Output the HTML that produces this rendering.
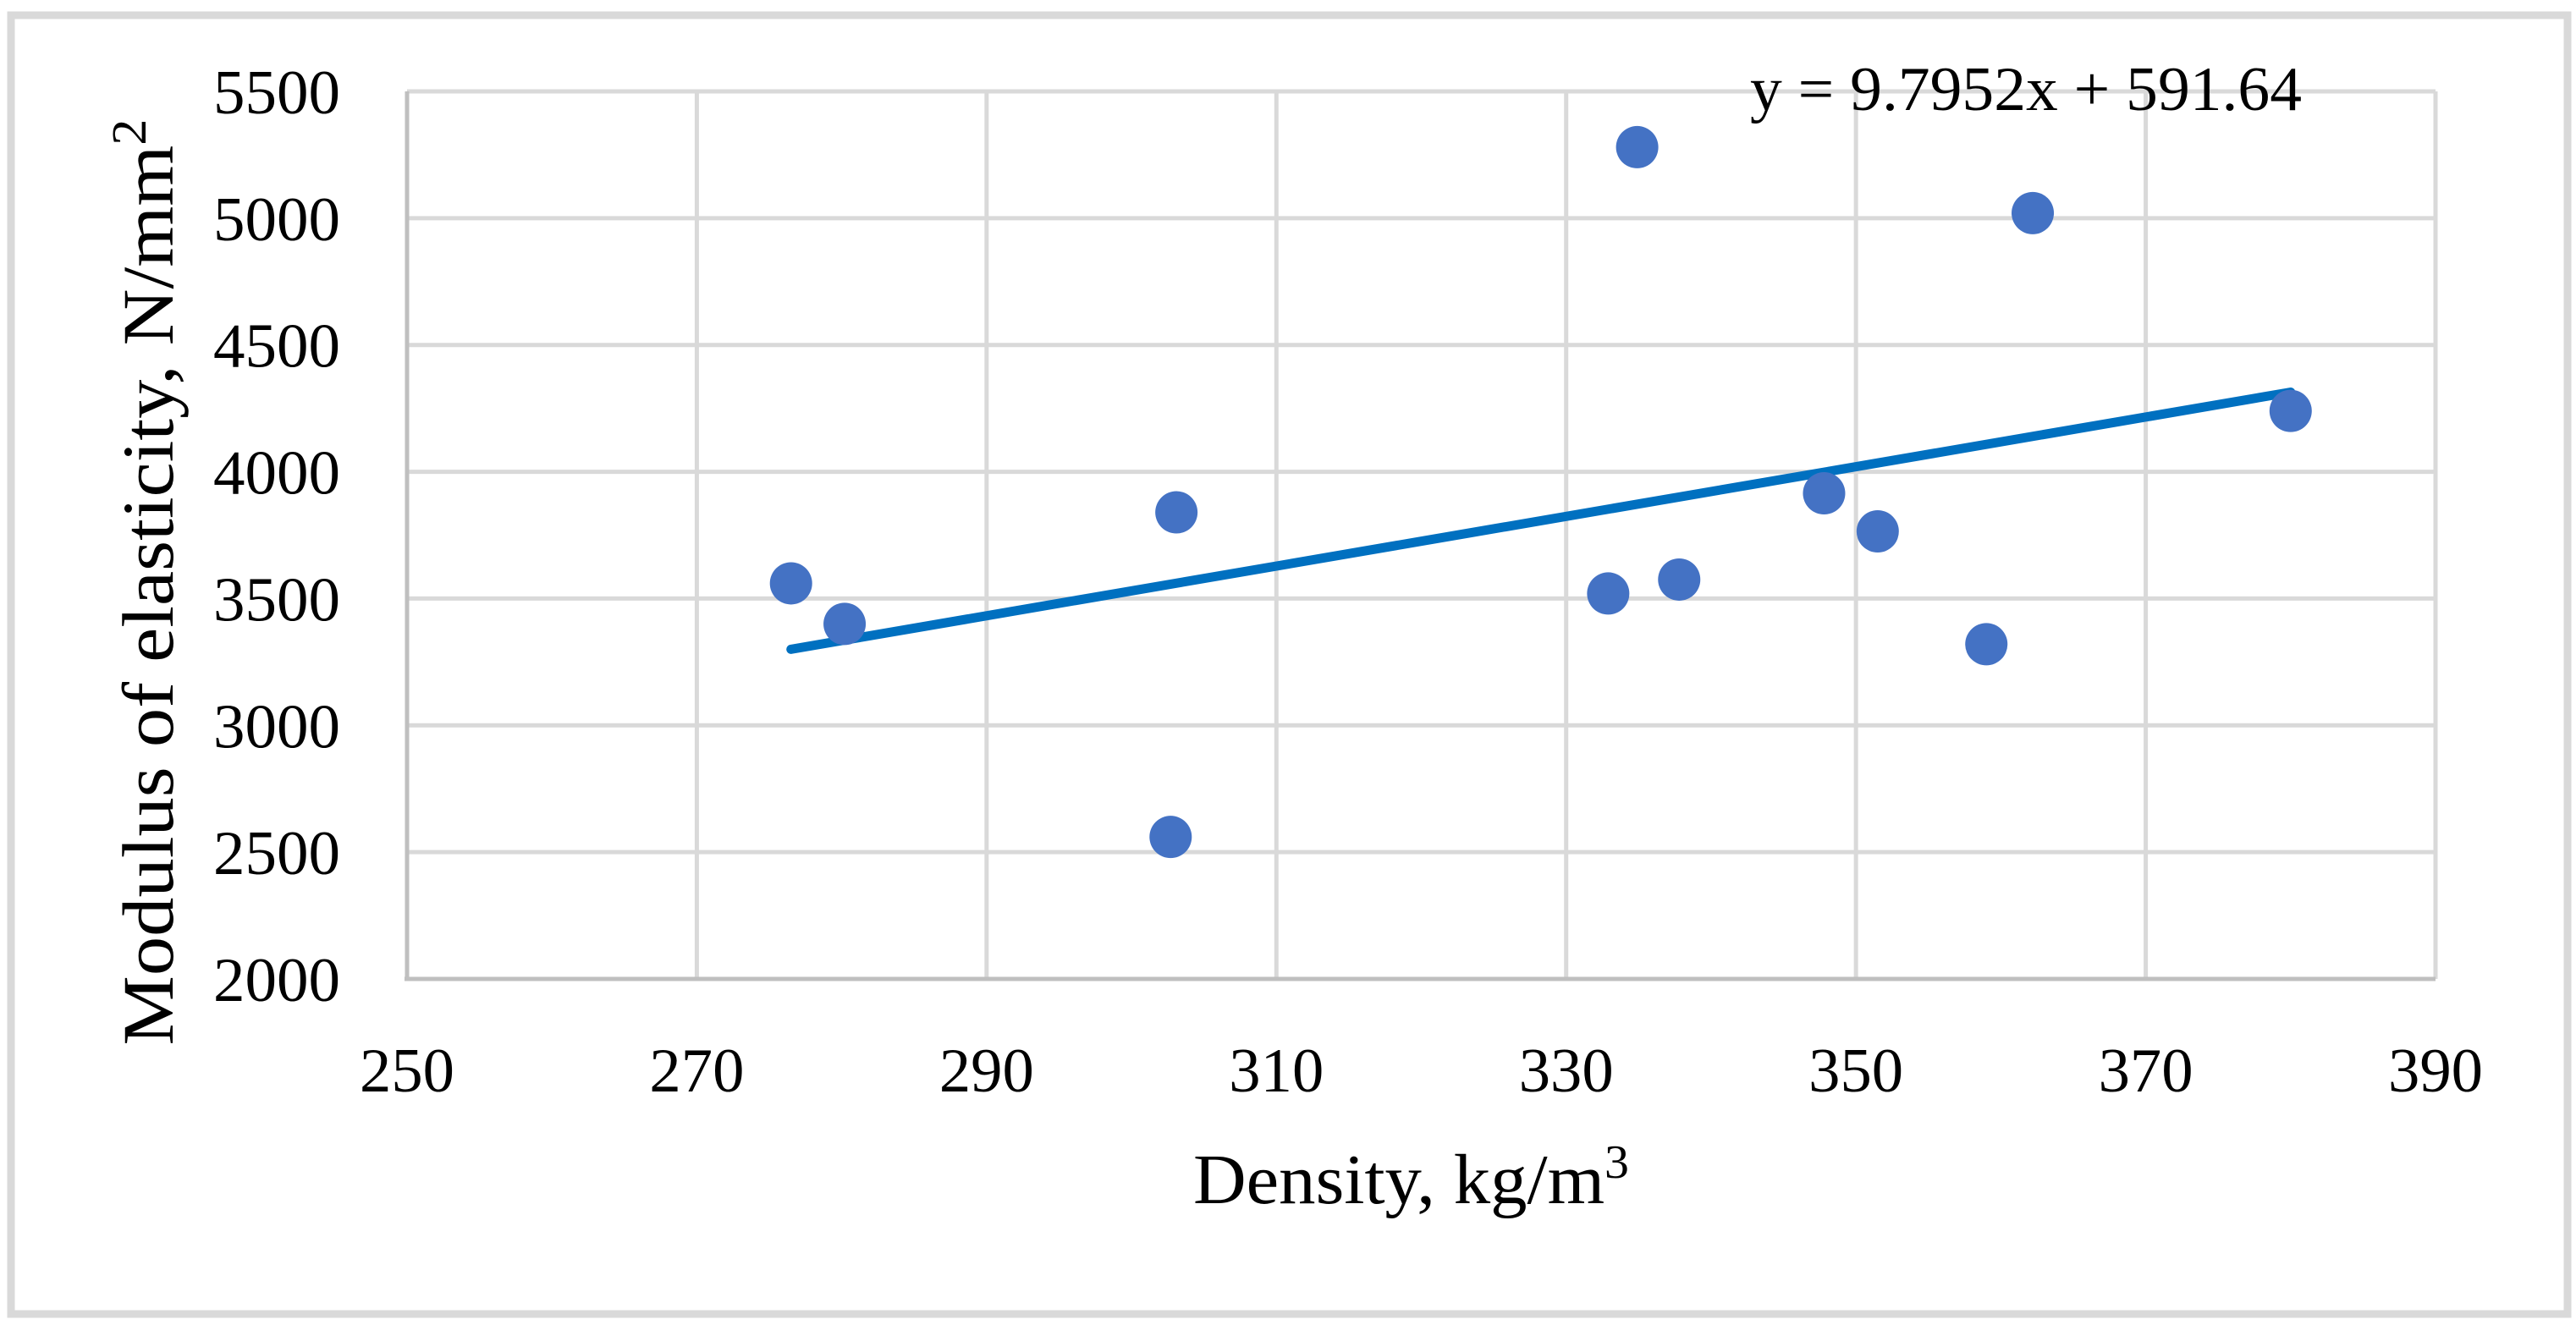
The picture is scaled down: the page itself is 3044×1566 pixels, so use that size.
<!DOCTYPE html>
<html><head><meta charset="utf-8"><style>
html,body{margin:0;padding:0;background:#fff;}
svg{display:block;}
text{font-family:"Liberation Serif",serif;fill:#000;}
</style></head><body>
<svg id="chart" width="3044" height="1566" viewBox="0 0 3044 1566" xmlns="http://www.w3.org/2000/svg">
<rect x="13" y="18" width="3021" height="1535" fill="#fff" stroke="#d9d9d9" stroke-width="9"/>
<g id="grid"></g>
<g id="axes"></g>
<g id="trend"></g>
<g id="points"></g>
<text x="2068" y="130" font-size="74" textLength="652" lengthAdjust="spacingAndGlyphs">y = 9.7952x + 591.64</text>
<text x="1410" y="1422" font-size="84" textLength="515" lengthAdjust="spacingAndGlyphs">Density, kg/m<tspan font-size="56" dy="-30">3</tspan></text>
<text transform="translate(204,688) rotate(-90)" font-size="86" text-anchor="middle" textLength="1095" lengthAdjust="spacingAndGlyphs">Modulus of elasticity, N/mm<tspan font-size="58" dy="-32">2</tspan></text>
</svg>
<script>
const xValues = [276.5, 280.2, 303.1, 302.7, 332.9, 334.9, 337.8, 347.8, 351.5, 359.0, 362.2, 380.0];
const yValues = [3560, 3400, 3840, 2560, 3520, 5280, 3575, 3915, 3765, 3320, 5020, 4240];
const xTicks = [250, 270, 290, 310, 330, 350, 370, 390];
const yTicks = [2000, 2500, 3000, 3500, 4000, 4500, 5000, 5500];
const slope = 9.7952;
const intercept = 591.64;

const NS = 'http://www.w3.org/2000/svg';
const L = 481, R = 2878, T = 108, B = 1157;
const xMin = 250, xMax = 390, yMin = 2000, yMax = 5500;
const sx = v => L + (v - xMin) / (xMax - xMin) * (R - L);
const sy = v => B - (v - yMin) / (yMax - yMin) * (B - T);
function mk(tag, attrs, parent) {
  const e = document.createElementNS(NS, tag);
  for (const k in attrs) e.setAttribute(k, attrs[k]);
  parent.appendChild(e);
  return e;
}
const grid = document.getElementById('grid');
const axes = document.getElementById('axes');
yTicks.forEach(t => {
  const ln = mk('line', {x1: L, x2: R, y1: sy(t), y2: sy(t), stroke: '#d9d9d9', 'stroke-width': 5}, grid);
  
  
  const tx = mk('text', {x: 402, y: sy(t) + 26, 'font-size': 74, 'text-anchor': 'end', textLength: 150, lengthAdjust: 'spacingAndGlyphs'}, axes);
  tx.textContent = t;
  
  
});
xTicks.forEach(t => {
  const ln = mk('line', {x1: sx(t), x2: sx(t), y1: T, y2: B, stroke: '#d9d9d9', 'stroke-width': 5}, grid);
  
  
  const tx = mk('text', {x: sx(t), y: 1290, 'font-size': 74, 'text-anchor': 'middle', textLength: 112, lengthAdjust: 'spacingAndGlyphs'}, axes);
  tx.textContent = t;
  
  
});
const xa = mk('line', {x1: L - 3, x2: R, y1: B, y2: B, stroke: '#bfbfbf', 'stroke-width': 5}, axes);


const ya = mk('line', {x1: L, x2: L, y1: T, y2: B, stroke: '#bfbfbf', 'stroke-width': 5}, axes);



const x0 = Math.min(...xValues), x1 = Math.max(...xValues);
const tl = mk('line', {x1: sx(x0), y1: sy(slope * x0 + intercept), x2: sx(x1), y2: sy(slope * x1 + intercept), stroke: '#0070c0', 'stroke-width': 11, 'stroke-linecap': 'round'}, document.getElementById('trend'));



const pts = document.getElementById('points');
xValues.forEach((x, i) => {
  const c = mk('ellipse', {cx: sx(x), cy: sy(yValues[i]), rx: 25, ry: 25, fill: '#4472c4'}, pts);
  
  
});
</script>
</body></html>
